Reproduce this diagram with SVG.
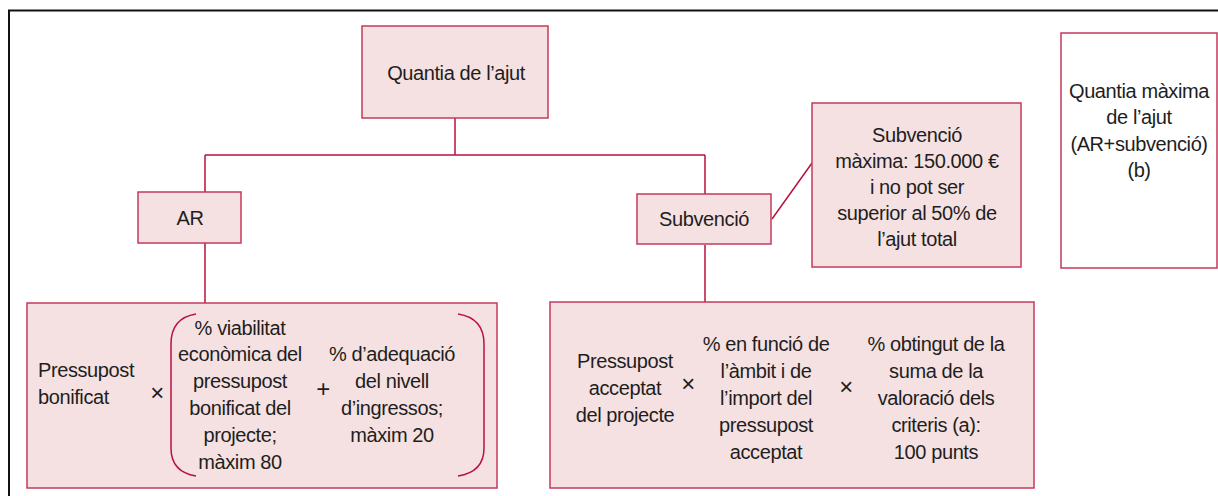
<svg xmlns="http://www.w3.org/2000/svg" width="1218" height="496" viewBox="0 0 1218 496">
<style>
.box{fill:#f5e1e1;stroke:#c43a5e;stroke-width:1.5}
.wbox{fill:#ffffff;stroke:#c43a5e;stroke-width:1.5}
.ln{fill:none;stroke:#b8123e;stroke-width:1.5}
text{font-family:"Liberation Sans",Arial,sans-serif;font-size:20px;fill:#1e1e1e;text-anchor:middle;letter-spacing:-0.4px}
.l{text-anchor:start}
.op{font-size:24px;font-weight:300}
</style>
<rect x="0" y="0" width="1218" height="496" fill="#ffffff"/>
<path d="M9,497 V10.5 H1219" fill="none" stroke="#111" stroke-width="2"/>
<g id="connectors">
<path class="ln" d="M455,118 V155 M205,155 H705 M205,155 V192 M705,155 V194 M205,243 V303 M705,245 V302 M772,219 L812,163"/>
</g>
<g id="quantia">
<rect class="box" x="362" y="26" width="186" height="92"/>
<text x="456" y="80">Quantia de l’ajut</text>
</g>
<g id="ar">
<rect class="box" x="138" y="192" width="103" height="51"/>
<text x="190" y="225">AR</text>
</g>
<g id="subvencio">
<rect class="box" x="637" y="194" width="134" height="50"/>
<text x="704" y="226">Subvenció</text>
</g>
<g id="subvencio-max">
<rect class="box" x="812" y="103" width="209" height="164"/>
<text x="917" y="142">Subvenció</text>
<text x="917" y="168">màxima: 150.000 €</text>
<text x="917" y="194">i no pot ser</text>
<text x="917" y="220">superior al 50% de</text>
<text x="917" y="246">l’ajut total</text>
</g>
<g id="quantia-max">
<rect class="wbox" x="1061" y="33" width="156" height="235"/>
<text x="1139" y="98">Quantia màxima</text>
<text x="1139" y="124">de l’ajut</text>
<text x="1139" y="151">(AR+subvenció)</text>
<text x="1139" y="177">(b)</text>
</g>
<g id="formula-ar">
<rect class="box" x="27" y="303" width="470" height="185"/>
<text class="l" x="38" y="377">Pressupost</text>
<text class="l" x="38" y="404">bonificat</text>
<text class="op" x="157" y="401">×</text>
<path class="ln" d="M196,314 Q171,318 171,344 V448 Q171,472 196,476"/>
<path class="ln" d="M458,314 Q484,318 484,344 V448 Q484,472 458,476"/>
<text x="240" y="335">% viabilitat</text>
<text x="240" y="361">econòmica del</text>
<text x="240" y="388">pressupost</text>
<text x="240" y="415">bonificat del</text>
<text x="240" y="442">projecte;</text>
<text x="240" y="469">màxim 80</text>
<text class="op" x="323" y="397">+</text>
<text x="392" y="361">% d’adequació</text>
<text x="392" y="388">del nivell</text>
<text x="392" y="415">d’ingressos;</text>
<text x="392" y="442">màxim 20</text>
</g>
<g id="formula-subvencio">
<rect class="box" x="550" y="302" width="484" height="186"/>
<text x="625" y="368">Pressupost</text>
<text x="625" y="395">acceptat</text>
<text x="625" y="422">del projecte</text>
<text class="op" x="688" y="392">×</text>
<text x="766" y="351">% en funció de</text>
<text x="766" y="378">l’àmbit i de</text>
<text x="766" y="405">l’import del</text>
<text x="766" y="432">pressupost</text>
<text x="766" y="459">acceptat</text>
<text class="op" x="846" y="395">×</text>
<text x="936" y="351">% obtingut de la</text>
<text x="936" y="378">suma de la</text>
<text x="936" y="405">valoració dels</text>
<text x="936" y="432">criteris (a):</text>
<text x="936" y="459">100 punts</text>
</g>
</svg>
